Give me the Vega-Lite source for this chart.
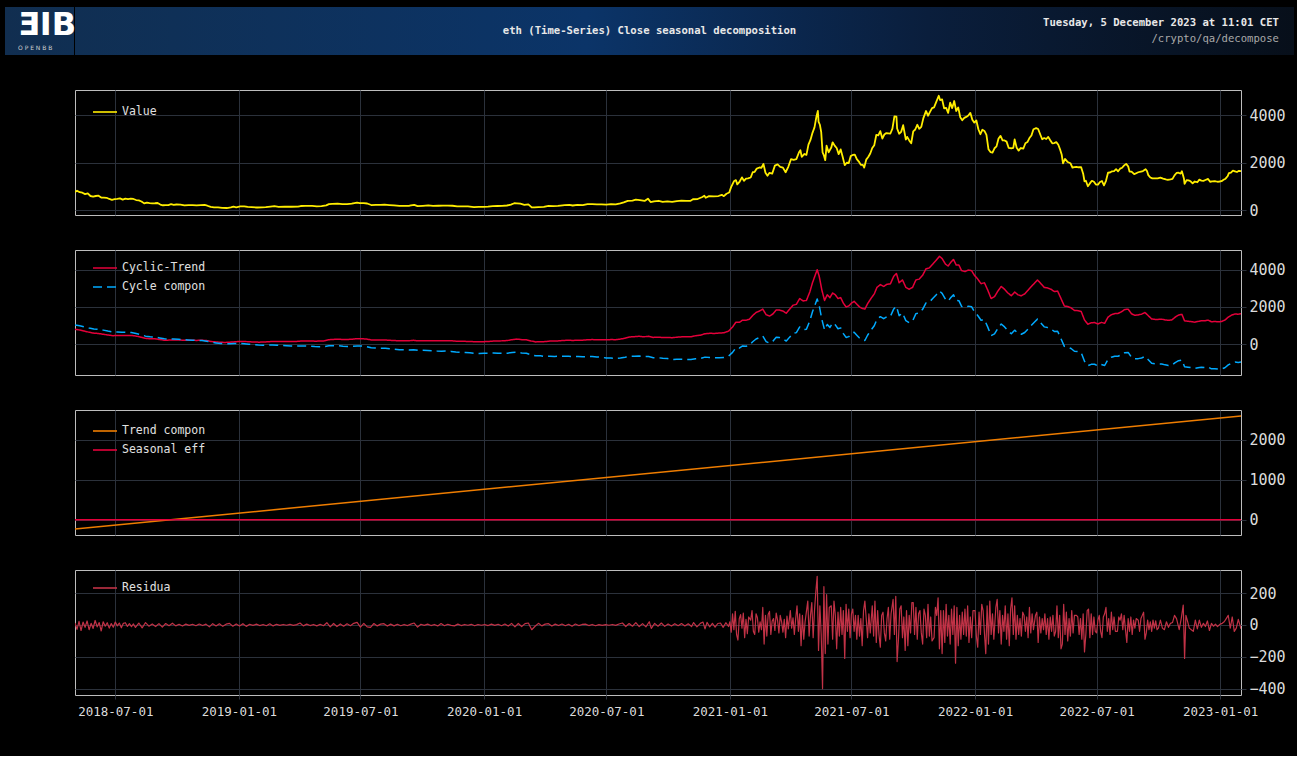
{
  "$schema": "https://vega.github.io/schema/vega-lite/v6.json",
  "background": "#000000",
  "padding": {"left": 5, "top": 7, "right": 4, "bottom": 38},
  "spacing": 0,
  "title": {
    "text": "ƎIB",
    "subtitle": "\u00a0\u00a0\u00a0\u00a0\u00a0O P E N B B",
    "anchor": "start",
    "frame": "group",
    "orient": "top",
    "offset": -45,
    "dx": 13,
    "zindex": 1,
    "font": "DejaVu Sans",
    "fontSize": 32,
    "fontWeight": "bold",
    "color": "#ffffff",
    "subtitleFont": "DejaVu Sans",
    "subtitleFontSize": 6,
    "subtitleColor": "#d0d0d0",
    "subtitlePadding": 3
  },
  "datasets": {
    "value": [
      {"d":"2018-05-02","v":760},{"d":"2018-05-05","v":815},{"d":"2018-05-09","v":750},{"d":"2018-05-13","v":730},{"d":"2018-05-17","v":670},{"d":"2018-05-21","v":700},{"d":"2018-05-25","v":590},{"d":"2018-05-29","v":565},{"d":"2018-06-02","v":590},{"d":"2018-06-06","v":605},{"d":"2018-06-10","v":525},{"d":"2018-06-14","v":520},{"d":"2018-06-18","v":515},{"d":"2018-06-22","v":465},{"d":"2018-06-26","v":430},{"d":"2018-06-30","v":455},{"d":"2018-07-04","v":465},{"d":"2018-07-08","v":490},{"d":"2018-07-12","v":435},{"d":"2018-07-16","v":480},{"d":"2018-07-20","v":460},{"d":"2018-07-24","v":480},{"d":"2018-07-28","v":465},{"d":"2018-08-01","v":420},{"d":"2018-08-05","v":405},{"d":"2018-08-09","v":360},{"d":"2018-08-13","v":280},{"d":"2018-08-17","v":315},{"d":"2018-08-21","v":290},{"d":"2018-08-25","v":280},{"d":"2018-08-29","v":285},{"d":"2018-09-02","v":295},{"d":"2018-09-06","v":230},{"d":"2018-09-10","v":200},{"d":"2018-09-14","v":210},{"d":"2018-09-18","v":210},{"d":"2018-09-22","v":245},{"d":"2018-09-26","v":215},{"d":"2018-09-30","v":232},{"d":"2018-10-06","v":225},{"d":"2018-10-12","v":195},{"d":"2018-10-18","v":205},{"d":"2018-10-24","v":205},{"d":"2018-10-30","v":198},{"d":"2018-11-05","v":210},{"d":"2018-11-11","v":212},{"d":"2018-11-15","v":180},{"d":"2018-11-20","v":130},{"d":"2018-11-25","v":115},{"d":"2018-12-01","v":115},{"d":"2018-12-07","v":92},{"d":"2018-12-14","v":84},{"d":"2018-12-20","v":110},{"d":"2018-12-24","v":140},{"d":"2018-12-28","v":115},
      {"d":"2019-01-03","v":150},{"d":"2019-01-09","v":153},{"d":"2019-01-14","v":128},{"d":"2019-01-20","v":118},{"d":"2019-01-28","v":105},{"d":"2019-02-04","v":107},{"d":"2019-02-10","v":120},{"d":"2019-02-17","v":140},{"d":"2019-02-23","v":160},{"d":"2019-03-01","v":135},{"d":"2019-03-10","v":138},{"d":"2019-03-20","v":138},{"d":"2019-03-30","v":142},{"d":"2019-04-03","v":168},{"d":"2019-04-10","v":175},{"d":"2019-04-20","v":172},{"d":"2019-04-27","v":157},{"d":"2019-05-04","v":162},{"d":"2019-05-11","v":195},{"d":"2019-05-15","v":245},{"d":"2019-05-20","v":260},{"d":"2019-05-28","v":270},{"d":"2019-06-04","v":245},{"d":"2019-06-11","v":245},{"d":"2019-06-18","v":265},{"d":"2019-06-26","v":310},{"d":"2019-06-30","v":290},{"d":"2019-07-06","v":290},{"d":"2019-07-11","v":275},{"d":"2019-07-17","v":210},{"d":"2019-07-24","v":215},{"d":"2019-07-31","v":218},{"d":"2019-08-06","v":225},{"d":"2019-08-13","v":210},{"d":"2019-08-20","v":195},{"d":"2019-08-28","v":170},{"d":"2019-09-04","v":175},{"d":"2019-09-12","v":180},{"d":"2019-09-19","v":220},{"d":"2019-09-24","v":165},{"d":"2019-10-02","v":178},{"d":"2019-10-10","v":192},{"d":"2019-10-17","v":175},{"d":"2019-10-25","v":180},{"d":"2019-11-01","v":183},{"d":"2019-11-08","v":185},{"d":"2019-11-15","v":180},{"d":"2019-11-22","v":150},{"d":"2019-11-30","v":152},{"d":"2019-12-08","v":150},{"d":"2019-12-17","v":122},{"d":"2019-12-24","v":130},{"d":"2019-12-31","v":130},
      {"d":"2020-01-07","v":145},{"d":"2020-01-14","v":165},{"d":"2020-01-21","v":168},{"d":"2020-01-28","v":175},{"d":"2020-02-04","v":190},{"d":"2020-02-10","v":225},{"d":"2020-02-15","v":285},{"d":"2020-02-19","v":280},{"d":"2020-02-24","v":265},{"d":"2020-03-01","v":218},{"d":"2020-03-07","v":240},{"d":"2020-03-12","v":112},{"d":"2020-03-16","v":110},{"d":"2020-03-22","v":122},{"d":"2020-03-30","v":132},{"d":"2020-04-06","v":170},{"d":"2020-04-13","v":160},{"d":"2020-04-20","v":172},{"d":"2020-04-27","v":195},{"d":"2020-04-30","v":206},{"d":"2020-05-07","v":212},{"d":"2020-05-12","v":190},{"d":"2020-05-19","v":213},{"d":"2020-05-27","v":208},{"d":"2020-06-03","v":244},{"d":"2020-06-10","v":247},{"d":"2020-06-17","v":236},{"d":"2020-06-24","v":235},{"d":"2020-07-01","v":230},{"d":"2020-07-08","v":246},{"d":"2020-07-15","v":238},{"d":"2020-07-22","v":275},{"d":"2020-07-27","v":320},{"d":"2020-08-02","v":386},{"d":"2020-08-09","v":392},{"d":"2020-08-14","v":437},{"d":"2020-08-20","v":415},{"d":"2020-08-27","v":382},{"d":"2020-09-01","v":478},{"d":"2020-09-05","v":335},{"d":"2020-09-10","v":367},{"d":"2020-09-17","v":389},{"d":"2020-09-23","v":345},{"d":"2020-09-30","v":360},{"d":"2020-10-07","v":341},{"d":"2020-10-14","v":378},{"d":"2020-10-21","v":393},{"d":"2020-10-28","v":388},{"d":"2020-11-03","v":383},{"d":"2020-11-07","v":454},{"d":"2020-11-14","v":462},{"d":"2020-11-21","v":549},{"d":"2020-11-24","v":604},{"d":"2020-11-26","v":518},{"d":"2020-12-01","v":587},{"d":"2020-12-08","v":575},{"d":"2020-12-15","v":589},{"d":"2020-12-20","v":638},{"d":"2020-12-23","v":584},{"d":"2020-12-27","v":685},{"d":"2020-12-31","v":737},
      {"d":"2021-01-03","v":975},{"d":"2021-01-07","v":1210},{"d":"2021-01-10","v":1260},{"d":"2021-01-12","v":1080},{"d":"2021-01-15","v":1170},{"d":"2021-01-19","v":1375},{"d":"2021-01-22","v":1230},{"d":"2021-01-25","v":1320},{"d":"2021-01-28","v":1330},{"d":"2021-02-01","v":1370},{"d":"2021-02-04","v":1590},{"d":"2021-02-07","v":1610},{"d":"2021-02-10","v":1745},{"d":"2021-02-14","v":1790},{"d":"2021-02-17","v":1780},{"d":"2021-02-20","v":1935},{"d":"2021-02-23","v":1570},{"d":"2021-02-26","v":1445},{"d":"2021-03-01","v":1565},{"d":"2021-03-05","v":1530},{"d":"2021-03-09","v":1870},{"d":"2021-03-13","v":1920},{"d":"2021-03-17","v":1815},{"d":"2021-03-21","v":1785},{"d":"2021-03-25","v":1590},{"d":"2021-03-29","v":1820},{"d":"2021-04-02","v":2140},{"d":"2021-04-06","v":2110},{"d":"2021-04-10","v":2140},{"d":"2021-04-14","v":2430},{"d":"2021-04-16","v":2515},{"d":"2021-04-18","v":2240},{"d":"2021-04-22","v":2360},{"d":"2021-04-25","v":2320},{"d":"2021-04-28","v":2750},{"d":"2021-05-01","v":2950},{"d":"2021-05-04","v":3250},{"d":"2021-05-07","v":3480},{"d":"2021-05-10","v":3950},{"d":"2021-05-12","v":4170},{"d":"2021-05-13","v":3720},{"d":"2021-05-15","v":3590},{"d":"2021-05-17","v":3280},{"d":"2021-05-19","v":2430},{"d":"2021-05-21","v":2300},{"d":"2021-05-23","v":2100},{"d":"2021-05-25","v":2710},{"d":"2021-05-28","v":2430},{"d":"2021-06-01","v":2630},{"d":"2021-06-03","v":2850},{"d":"2021-06-06","v":2710},{"d":"2021-06-09","v":2610},{"d":"2021-06-12","v":2350},{"d":"2021-06-15","v":2550},{"d":"2021-06-18","v":2230},{"d":"2021-06-21","v":1890},{"d":"2021-06-24","v":1990},{"d":"2021-06-27","v":1980},{"d":"2021-06-30","v":2270},{"d":"2021-07-03","v":2320},{"d":"2021-07-06","v":2330},{"d":"2021-07-09","v":2140},{"d":"2021-07-12","v":2040},{"d":"2021-07-15","v":1900},{"d":"2021-07-18","v":1900},{"d":"2021-07-20","v":1785},{"d":"2021-07-23","v":2120},{"d":"2021-07-26","v":2230},{"d":"2021-07-29","v":2380},{"d":"2021-08-01","v":2610},{"d":"2021-08-04","v":2730},{"d":"2021-08-07","v":3160},{"d":"2021-08-10","v":3140},{"d":"2021-08-13","v":3320},{"d":"2021-08-16","v":3010},{"d":"2021-08-19","v":3180},{"d":"2021-08-22","v":3240},{"d":"2021-08-25","v":3230},{"d":"2021-08-28","v":3220},{"d":"2021-08-31","v":3430},{"d":"2021-09-03","v":3940},{"d":"2021-09-06","v":3930},{"d":"2021-09-07","v":3430},{"d":"2021-09-10","v":3210},{"d":"2021-09-13","v":3290},{"d":"2021-09-16","v":3570},{"d":"2021-09-20","v":2970},{"d":"2021-09-22","v":3080},{"d":"2021-09-25","v":2930},{"d":"2021-09-28","v":2810},{"d":"2021-10-01","v":3310},{"d":"2021-10-04","v":3390},{"d":"2021-10-07","v":3590},{"d":"2021-10-10","v":3420},{"d":"2021-10-13","v":3500},{"d":"2021-10-16","v":3860},{"d":"2021-10-20","v":4170},{"d":"2021-10-23","v":3970},{"d":"2021-10-26","v":4130},{"d":"2021-10-29","v":4290},{"d":"2021-11-01","v":4320},{"d":"2021-11-04","v":4530},{"d":"2021-11-08","v":4810},{"d":"2021-11-10","v":4630},{"d":"2021-11-13","v":4660},{"d":"2021-11-16","v":4280},{"d":"2021-11-19","v":4300},{"d":"2021-11-22","v":4090},{"d":"2021-11-25","v":4520},{"d":"2021-11-28","v":4290},{"d":"2021-12-01","v":4590},{"d":"2021-12-04","v":4170},{"d":"2021-12-07","v":4320},{"d":"2021-12-10","v":3910},{"d":"2021-12-13","v":3780},{"d":"2021-12-16","v":3880},{"d":"2021-12-19","v":3920},{"d":"2021-12-22","v":3980},{"d":"2021-12-25","v":4090},{"d":"2021-12-28","v":3800},{"d":"2021-12-31","v":3680},
      {"d":"2022-01-03","v":3770},{"d":"2022-01-06","v":3400},{"d":"2022-01-09","v":3190},{"d":"2022-01-12","v":3380},{"d":"2022-01-15","v":3330},{"d":"2022-01-18","v":3160},{"d":"2022-01-21","v":2560},{"d":"2022-01-24","v":2440},{"d":"2022-01-27","v":2420},{"d":"2022-01-30","v":2600},{"d":"2022-02-02","v":2680},{"d":"2022-02-05","v":3010},{"d":"2022-02-08","v":3120},{"d":"2022-02-11","v":2930},{"d":"2022-02-14","v":2930},{"d":"2022-02-17","v":2880},{"d":"2022-02-20","v":2620},{"d":"2022-02-24","v":2600},{"d":"2022-02-27","v":2620},{"d":"2022-03-01","v":2970},{"d":"2022-03-04","v":2620},{"d":"2022-03-07","v":2500},{"d":"2022-03-10","v":2610},{"d":"2022-03-14","v":2590},{"d":"2022-03-17","v":2810},{"d":"2022-03-20","v":2860},{"d":"2022-03-23","v":3030},{"d":"2022-03-26","v":3140},{"d":"2022-03-29","v":3400},{"d":"2022-04-02","v":3450},{"d":"2022-04-05","v":3410},{"d":"2022-04-08","v":3190},{"d":"2022-04-11","v":2980},{"d":"2022-04-14","v":3030},{"d":"2022-04-17","v":2990},{"d":"2022-04-20","v":3080},{"d":"2022-04-23","v":2940},{"d":"2022-04-26","v":2810},{"d":"2022-04-29","v":2820},{"d":"2022-05-02","v":2860},{"d":"2022-05-05","v":2750},{"d":"2022-05-08","v":2520},{"d":"2022-05-10","v":2340},{"d":"2022-05-12","v":1960},{"d":"2022-05-15","v":2150},{"d":"2022-05-19","v":2020},{"d":"2022-05-23","v":1970},{"d":"2022-05-26","v":1790},{"d":"2022-05-29","v":1810},{"d":"2022-06-01","v":1820},{"d":"2022-06-04","v":1800},{"d":"2022-06-08","v":1800},{"d":"2022-06-11","v":1530},{"d":"2022-06-13","v":1210},{"d":"2022-06-15","v":1230},{"d":"2022-06-18","v":1000},{"d":"2022-06-21","v":1120},{"d":"2022-06-24","v":1230},{"d":"2022-06-27","v":1190},{"d":"2022-06-30","v":1070},{"d":"2022-07-03","v":1070},{"d":"2022-07-06","v":1180},{"d":"2022-07-09","v":1220},{"d":"2022-07-12","v":1040},{"d":"2022-07-15","v":1230},{"d":"2022-07-18","v":1570},{"d":"2022-07-21","v":1580},{"d":"2022-07-24","v":1630},{"d":"2022-07-27","v":1640},{"d":"2022-07-30","v":1720},{"d":"2022-08-02","v":1630},{"d":"2022-08-05","v":1740},{"d":"2022-08-08","v":1780},{"d":"2022-08-11","v":1880},{"d":"2022-08-14","v":1940},{"d":"2022-08-17","v":1840},{"d":"2022-08-19","v":1620},{"d":"2022-08-22","v":1620},{"d":"2022-08-26","v":1510},{"d":"2022-08-29","v":1550},{"d":"2022-09-01","v":1590},{"d":"2022-09-05","v":1620},{"d":"2022-09-08","v":1640},{"d":"2022-09-12","v":1720},{"d":"2022-09-14","v":1640},{"d":"2022-09-16","v":1470},{"d":"2022-09-19","v":1370},{"d":"2022-09-22","v":1330},{"d":"2022-09-26","v":1330},{"d":"2022-09-30","v":1330},{"d":"2022-10-04","v":1360},{"d":"2022-10-08","v":1320},{"d":"2022-10-12","v":1290},{"d":"2022-10-15","v":1270},{"d":"2022-10-19","v":1290},{"d":"2022-10-22","v":1310},{"d":"2022-10-25","v":1460},{"d":"2022-10-28","v":1560},{"d":"2022-10-31","v":1570},{"d":"2022-11-03","v":1530},{"d":"2022-11-05","v":1630},{"d":"2022-11-08","v":1330},{"d":"2022-11-09","v":1100},{"d":"2022-11-12","v":1260},{"d":"2022-11-15","v":1250},{"d":"2022-11-18","v":1210},{"d":"2022-11-21","v":1120},{"d":"2022-11-24","v":1200},{"d":"2022-11-28","v":1170},{"d":"2022-12-01","v":1280},{"d":"2022-12-04","v":1240},{"d":"2022-12-07","v":1230},{"d":"2022-12-10","v":1265},{"d":"2022-12-14","v":1310},{"d":"2022-12-17","v":1190},{"d":"2022-12-20","v":1210},{"d":"2022-12-24","v":1220},{"d":"2022-12-28","v":1190},{"d":"2022-12-31","v":1200},
      {"d":"2023-01-03","v":1215},{"d":"2023-01-06","v":1270},{"d":"2023-01-09","v":1320},{"d":"2023-01-12","v":1420},{"d":"2023-01-14","v":1550},{"d":"2023-01-17","v":1570},{"d":"2023-01-20","v":1660},{"d":"2023-01-23","v":1630},{"d":"2023-01-26","v":1600},{"d":"2023-01-29","v":1650},{"d":"2023-02-01","v":1640}
    ],
    "cyclic": [
      {"d":"2018-05-02","ct":800,"cy":1030},{"d":"2018-05-09","ct":760,"cy":989},{"d":"2018-05-16","ct":700,"cy":927},{"d":"2018-05-23","ct":640,"cy":866},{"d":"2018-05-30","ct":590,"cy":814},{"d":"2018-06-06","ct":570,"cy":793},{"d":"2018-06-13","ct":530,"cy":752},{"d":"2018-06-20","ct":490,"cy":700},{"d":"2018-06-27","ct":455,"cy":654},{"d":"2018-07-04","ct":465,"cy":652},{"d":"2018-07-11","ct":460,"cy":636},{"d":"2018-07-18","ct":465,"cy":630},{"d":"2018-07-25","ct":470,"cy":623},{"d":"2018-08-01","ct":430,"cy":572},{"d":"2018-08-08","ct":375,"cy":505},{"d":"2018-08-15","ct":310,"cy":429},{"d":"2018-08-22","ct":290,"cy":397},{"d":"2018-08-29","ct":285,"cy":381},{"d":"2018-09-05","ct":250,"cy":335},{"d":"2018-09-12","ct":210,"cy":283},{"d":"2018-09-19","ct":215,"cy":277},{"d":"2018-09-26","ct":225,"cy":275},{"d":"2018-10-03","ct":225,"cy":264},{"d":"2018-10-10","ct":210,"cy":238},{"d":"2018-10-17","ct":205,"cy":221},{"d":"2018-10-24","ct":203,"cy":208},{"d":"2018-10-31","ct":200,"cy":193},{"d":"2018-11-07","ct":210,"cy":192},{"d":"2018-11-14","ct":190,"cy":160},{"d":"2018-11-21","ct":140,"cy":99},{"d":"2018-11-28","ct":118,"cy":66},{"d":"2018-12-05","ct":100,"cy":36},{"d":"2018-12-12","ct":90,"cy":15},{"d":"2018-12-19","ct":105,"cy":18},{"d":"2018-12-26","ct":125,"cy":27},
      {"d":"2019-01-02","ct":145,"cy":36},{"d":"2019-01-09","ct":145,"cy":24},{"d":"2019-01-16","ct":125,"cy":-7},{"d":"2019-01-23","ct":115,"cy":-29},{"d":"2019-01-30","ct":107,"cy":-48},{"d":"2019-02-06","ct":108,"cy":-58},{"d":"2019-02-13","ct":125,"cy":-53},{"d":"2019-02-20","ct":145,"cy":-44},{"d":"2019-02-27","ct":140,"cy":-61},{"d":"2019-03-06","ct":135,"cy":-77},{"d":"2019-03-13","ct":137,"cy":-86},{"d":"2019-03-20","ct":138,"cy":-97},{"d":"2019-03-27","ct":140,"cy":-106},{"d":"2019-04-03","ct":162,"cy":-96},{"d":"2019-04-10","ct":172,"cy":-97},{"d":"2019-04-17","ct":170,"cy":-111},{"d":"2019-04-24","ct":160,"cy":-132},{"d":"2019-05-01","ct":162,"cy":-141},{"d":"2019-05-08","ct":175,"cy":-140},{"d":"2019-05-15","ct":235,"cy":-91},{"d":"2019-05-22","ct":255,"cy":-83},{"d":"2019-05-29","ct":265,"cy":-84},{"d":"2019-06-05","ct":250,"cy":-110},{"d":"2019-06-12","ct":250,"cy":-122},{"d":"2019-06-19","ct":265,"cy":-118},{"d":"2019-06-26","ct":295,"cy":-100},{"d":"2019-07-03","ct":290,"cy":-106},{"d":"2019-07-10","ct":275,"cy":-132},{"d":"2019-07-17","ct":225,"cy":-194},{"d":"2019-07-24","ct":215,"cy":-215},{"d":"2019-07-31","ct":218,"cy":-224},{"d":"2019-08-07","ct":222,"cy":-221},{"d":"2019-08-14","ct":205,"cy":-250},{"d":"2019-08-21","ct":192,"cy":-274},{"d":"2019-08-28","ct":175,"cy":-302},{"d":"2019-09-04","ct":175,"cy":-304},{"d":"2019-09-11","ct":180,"cy":-310},{"d":"2019-09-18","ct":205,"cy":-297},{"d":"2019-09-25","ct":175,"cy":-338},{"d":"2019-10-02","ct":178,"cy":-336},{"d":"2019-10-09","ct":185,"cy":-341},{"d":"2019-10-16","ct":180,"cy":-357},{"d":"2019-10-23","ct":175,"cy":-374},{"d":"2019-10-30","ct":182,"cy":-378},{"d":"2019-11-06","ct":185,"cy":-376},{"d":"2019-11-13","ct":182,"cy":-391},{"d":"2019-11-20","ct":160,"cy":-424},{"d":"2019-11-27","ct":152,"cy":-444},{"d":"2019-12-04","ct":148,"cy":-449},{"d":"2019-12-11","ct":145,"cy":-463},{"d":"2019-12-18","ct":128,"cy":-492},{"d":"2019-12-25","ct":128,"cy":-503},
      {"d":"2020-01-01","ct":132,"cy":-491},{"d":"2020-01-08","ct":145,"cy":-489},{"d":"2020-01-15","ct":165,"cy":-481},{"d":"2020-01-22","ct":168,"cy":-489},{"d":"2020-01-29","ct":178,"cy":-490},{"d":"2020-02-05","ct":195,"cy":-485},{"d":"2020-02-12","ct":240,"cy":-451},{"d":"2020-02-19","ct":270,"cy":-433},{"d":"2020-02-26","ct":240,"cy":-474},{"d":"2020-03-04","ct":230,"cy":-495},{"d":"2020-03-11","ct":170,"cy":-567},{"d":"2020-03-18","ct":120,"cy":-628},{"d":"2020-03-25","ct":130,"cy":-630},{"d":"2020-04-01","ct":135,"cy":-666},{"d":"2020-04-08","ct":165,"cy":-647},{"d":"2020-04-15","ct":162,"cy":-662},{"d":"2020-04-22","ct":180,"cy":-655},{"d":"2020-04-29","ct":200,"cy":-647},{"d":"2020-05-06","ct":208,"cy":-650},{"d":"2020-05-13","ct":198,"cy":-672},{"d":"2020-05-20","ct":210,"cy":-671},{"d":"2020-05-27","ct":210,"cy":-682},{"d":"2020-06-03","ct":238,"cy":-666},{"d":"2020-06-10","ct":243,"cy":-672},{"d":"2020-06-17","ct":237,"cy":-690},{"d":"2020-06-24","ct":234,"cy":-704},{"d":"2020-07-01","ct":230,"cy":-749},{"d":"2020-07-08","ct":243,"cy":-748},{"d":"2020-07-15","ct":240,"cy":-762},{"d":"2020-07-22","ct":270,"cy":-744},{"d":"2020-07-29","ct":320,"cy":-705},{"d":"2020-08-05","ct":385,"cy":-651},{"d":"2020-08-12","ct":400,"cy":-648},{"d":"2020-08-19","ct":420,"cy":-639},{"d":"2020-08-26","ct":395,"cy":-676},{"d":"2020-09-02","ct":420,"cy":-662},{"d":"2020-09-09","ct":360,"cy":-733},{"d":"2020-09-16","ct":375,"cy":-730},{"d":"2020-09-23","ct":355,"cy":-761},{"d":"2020-09-30","ct":358,"cy":-770},{"d":"2020-10-07","ct":345,"cy":-834},{"d":"2020-10-14","ct":372,"cy":-818},{"d":"2020-10-21","ct":390,"cy":-812},{"d":"2020-10-28","ct":390,"cy":-823},{"d":"2020-11-04","ct":395,"cy":-830},{"d":"2020-11-11","ct":450,"cy":-786},{"d":"2020-11-18","ct":480,"cy":-768},{"d":"2020-11-25","ct":560,"cy":-699},{"d":"2020-12-02","ct":580,"cy":-720},{"d":"2020-12-09","ct":575,"cy":-737},{"d":"2020-12-16","ct":595,"cy":-728},{"d":"2020-12-23","ct":610,"cy":-725},{"d":"2020-12-30","ct":700,"cy":-646},
      {"d":"2021-01-05","ct":920,"cy":-446},{"d":"2021-01-10","ct":1180,"cy":-194},{"d":"2021-01-15","ct":1170,"cy":-212},{"d":"2021-01-20","ct":1290,"cy":-100},{"d":"2021-01-25","ct":1280,"cy":-118},{"d":"2021-01-30","ct":1340,"cy":-67},{"d":"2021-02-04","ct":1540,"cy":125},{"d":"2021-02-09","ct":1700,"cy":277},{"d":"2021-02-14","ct":1780,"cy":349},{"d":"2021-02-19","ct":1880,"cy":441},{"d":"2021-02-24","ct":1580,"cy":133},{"d":"2021-03-01","ct":1510,"cy":55},{"d":"2021-03-06","ct":1620,"cy":156},{"d":"2021-03-11","ct":1840,"cy":368},{"d":"2021-03-16","ct":1830,"cy":350},{"d":"2021-03-21","ct":1780,"cy":292},{"d":"2021-03-26","ct":1660,"cy":164},{"d":"2021-03-31","ct":1880,"cy":376},{"d":"2021-04-05","ct":2090,"cy":578},{"d":"2021-04-10","ct":2140,"cy":619},{"d":"2021-04-15","ct":2450,"cy":921},{"d":"2021-04-20","ct":2320,"cy":783},{"d":"2021-04-25","ct":2350,"cy":805},{"d":"2021-04-30","ct":2800,"cy":1247},{"d":"2021-05-04","ct":3300,"cy":1742},{"d":"2021-05-08","ct":3700,"cy":2135},{"d":"2021-05-11","ct":4000,"cy":2430},{"d":"2021-05-14","ct":3650,"cy":2076},{"d":"2021-05-18","ct":2900,"cy":1319},{"d":"2021-05-22","ct":2350,"cy":763},{"d":"2021-05-26","ct":2650,"cy":1056},{"d":"2021-05-30","ct":2500,"cy":900},{"d":"2021-06-03","ct":2750,"cy":1141},{"d":"2021-06-07","ct":2650,"cy":1035},{"d":"2021-06-11","ct":2450,"cy":828},{"d":"2021-06-15","ct":2500,"cy":872},{"d":"2021-06-19","ct":2200,"cy":565},{"d":"2021-06-23","ct":2000,"cy":359},{"d":"2021-06-27","ct":2050,"cy":402},{"d":"2021-07-01","ct":2200,"cy":546},{"d":"2021-07-05","ct":2300,"cy":639},{"d":"2021-07-09","ct":2150,"cy":483},{"d":"2021-07-13","ct":2000,"cy":326},{"d":"2021-07-17","ct":1920,"cy":240},{"d":"2021-07-21","ct":1880,"cy":193},{"d":"2021-07-25","ct":2170,"cy":477},{"d":"2021-07-30","ct":2450,"cy":748},{"d":"2021-08-04","ct":2700,"cy":990},{"d":"2021-08-08","ct":3050,"cy":1334},{"d":"2021-08-13","ct":3200,"cy":1476},{"d":"2021-08-18","ct":3100,"cy":1367},{"d":"2021-08-23","ct":3220,"cy":1479},{"d":"2021-08-28","ct":3240,"cy":1491},{"d":"2021-09-02","ct":3650,"cy":1893},{"d":"2021-09-06","ct":3800,"cy":2037},{"d":"2021-09-10","ct":3300,"cy":1530},{"d":"2021-09-15","ct":3450,"cy":1672},{"d":"2021-09-20","ct":3050,"cy":1264},{"d":"2021-09-25","ct":2950,"cy":1156},{"d":"2021-09-30","ct":3050,"cy":1247},{"d":"2021-10-05","ct":3450,"cy":1639},{"d":"2021-10-10","ct":3500,"cy":1681},{"d":"2021-10-15","ct":3700,"cy":1873},{"d":"2021-10-20","ct":4050,"cy":2215},{"d":"2021-10-25","ct":4100,"cy":2257},{"d":"2021-10-30","ct":4300,"cy":2448},{"d":"2021-11-04","ct":4500,"cy":2640},{"d":"2021-11-09","ct":4720,"cy":2852},{"d":"2021-11-13","ct":4600,"cy":2726},{"d":"2021-11-18","ct":4300,"cy":2418},{"d":"2021-11-22","ct":4200,"cy":2311},{"d":"2021-11-26","ct":4400,"cy":2504},{"d":"2021-11-30","ct":4550,"cy":2648},{"d":"2021-12-04","ct":4250,"cy":2341},{"d":"2021-12-08","ct":4250,"cy":2335},{"d":"2021-12-12","ct":3950,"cy":2028},{"d":"2021-12-17","ct":3900,"cy":1970},{"d":"2021-12-22","ct":3980,"cy":2042},{"d":"2021-12-27","ct":3950,"cy":2004},{"d":"2021-12-31","ct":3700,"cy":1747},
      {"d":"2022-01-05","ct":3500,"cy":1539},{"d":"2022-01-10","ct":3250,"cy":1281},{"d":"2022-01-15","ct":3300,"cy":1323},{"d":"2022-01-20","ct":2900,"cy":915},{"d":"2022-01-25","ct":2450,"cy":457},{"d":"2022-01-30","ct":2550,"cy":549},{"d":"2022-02-04","ct":2850,"cy":840},{"d":"2022-02-09","ct":3100,"cy":1082},{"d":"2022-02-14","ct":2950,"cy":924},{"d":"2022-02-19","ct":2750,"cy":716},{"d":"2022-02-24","ct":2600,"cy":558},{"d":"2022-03-01","ct":2800,"cy":750},{"d":"2022-03-06","ct":2650,"cy":591},{"d":"2022-03-11","ct":2600,"cy":533},{"d":"2022-03-16","ct":2700,"cy":625},{"d":"2022-03-21","ct":2900,"cy":817},{"d":"2022-03-26","ct":3100,"cy":1009},{"d":"2022-03-31","ct":3300,"cy":1201},{"d":"2022-04-04","ct":3450,"cy":1344},{"d":"2022-04-09","ct":3250,"cy":1136},{"d":"2022-04-14","ct":3050,"cy":928},{"d":"2022-04-19","ct":3020,"cy":890},{"d":"2022-04-24","ct":2950,"cy":812},{"d":"2022-04-29","ct":2830,"cy":683},{"d":"2022-05-04","ct":2850,"cy":695},{"d":"2022-05-09","ct":2450,"cy":287},{"d":"2022-05-14","ct":2050,"cy":-121},{"d":"2022-05-19","ct":2020,"cy":-159},{"d":"2022-05-24","ct":1950,"cy":-237},{"d":"2022-05-29","ct":1810,"cy":-385},{"d":"2022-06-03","ct":1800,"cy":-404},{"d":"2022-06-08","ct":1760,"cy":-452},{"d":"2022-06-13","ct":1300,"cy":-920},{"d":"2022-06-18","ct":1070,"cy":-1158},{"d":"2022-06-23","ct":1150,"cy":-1086},{"d":"2022-06-28","ct":1160,"cy":-1084},{"d":"2022-07-03","ct":1080,"cy":-1172},{"d":"2022-07-08","ct":1170,"cy":-1091},{"d":"2022-07-13","ct":1120,"cy":-1149},{"d":"2022-07-18","ct":1450,"cy":-827},{"d":"2022-07-23","ct":1580,"cy":-705},{"d":"2022-07-28","ct":1640,"cy":-653},{"d":"2022-08-02","ct":1650,"cy":-651},{"d":"2022-08-07","ct":1740,"cy":-570},{"d":"2022-08-12","ct":1860,"cy":-458},{"d":"2022-08-17","ct":1880,"cy":-446},{"d":"2022-08-22","ct":1630,"cy":-704},{"d":"2022-08-27","ct":1550,"cy":-792},{"d":"2022-09-01","ct":1570,"cy":-780},{"d":"2022-09-06","ct":1610,"cy":-748},{"d":"2022-09-11","ct":1700,"cy":-666},{"d":"2022-09-16","ct":1530,"cy":-845},{"d":"2022-09-21","ct":1350,"cy":-1033},{"d":"2022-09-26","ct":1330,"cy":-1061},{"d":"2022-10-01","ct":1330,"cy":-1069},{"d":"2022-10-06","ct":1340,"cy":-1067},{"d":"2022-10-11","ct":1300,"cy":-1115},{"d":"2022-10-16","ct":1280,"cy":-1144},{"d":"2022-10-21","ct":1300,"cy":-1132},{"d":"2022-10-26","ct":1450,"cy":-990},{"d":"2022-10-31","ct":1560,"cy":-888},{"d":"2022-11-05","ct":1600,"cy":-856},{"d":"2022-11-09","ct":1250,"cy":-1213},{"d":"2022-11-14","ct":1230,"cy":-1241},{"d":"2022-11-19","ct":1210,"cy":-1269},{"d":"2022-11-24","ct":1180,"cy":-1307},{"d":"2022-11-29","ct":1220,"cy":-1275},{"d":"2022-12-04","ct":1260,"cy":-1244},{"d":"2022-12-09","ct":1250,"cy":-1262},{"d":"2022-12-14","ct":1290,"cy":-1230},{"d":"2022-12-19","ct":1200,"cy":-1328},{"d":"2022-12-24","ct":1215,"cy":-1321},{"d":"2022-12-29","ct":1200,"cy":-1344},
      {"d":"2023-01-03","ct":1215,"cy":-1337},{"d":"2023-01-08","ct":1290,"cy":-1271},{"d":"2023-01-13","ct":1450,"cy":-1119},{"d":"2023-01-18","ct":1560,"cy":-1017},{"d":"2023-01-23","ct":1620,"cy":-965},{"d":"2023-01-28","ct":1610,"cy":-983},{"d":"2023-02-01","ct":1640,"cy":-960}
    ],
    "components": [
      {"d":"2018-05-02","s":"Trend compon","v":-230},{"d":"2023-02-01","s":"Trend compon","v":2600},
      {"d":"2018-05-02","s":"Seasonal eff","v":0},{"d":"2023-02-01","s":"Seasonal eff","v":0}
    ],
    "resid": [
      {"d":"2018-05-02","r":12},{"d":"2018-05-05","r":-28},{"d":"2018-05-08","r":22},{"d":"2018-05-11","r":-35},{"d":"2018-05-14","r":18},{"d":"2018-05-17","r":-15},{"d":"2018-05-20","r":25},{"d":"2018-05-23","r":-30},{"d":"2018-05-26","r":10},{"d":"2018-05-29","r":-22},{"d":"2018-06-01","r":28},{"d":"2018-06-04","r":-12},{"d":"2018-06-07","r":15},{"d":"2018-06-10","r":-38},{"d":"2018-06-13","r":20},{"d":"2018-06-16","r":-8},{"d":"2018-06-19","r":14},{"d":"2018-06-22","r":-20},{"d":"2018-06-25","r":9},{"d":"2018-06-28","r":-14},{"d":"2018-07-01","r":18},{"d":"2018-07-04","r":-6},{"d":"2018-07-07","r":12},{"d":"2018-07-10","r":-18},{"d":"2018-07-13","r":10},{"d":"2018-07-16","r":14},{"d":"2018-07-19","r":-9},{"d":"2018-07-22","r":8},{"d":"2018-07-25","r":-11},{"d":"2018-07-28","r":6},{"d":"2018-07-31","r":-16},{"d":"2018-08-05","r":12},{"d":"2018-08-10","r":-18},{"d":"2018-08-15","r":15},{"d":"2018-08-20","r":-8},{"d":"2018-08-25","r":6},{"d":"2018-08-30","r":-10},{"d":"2018-09-04","r":8},{"d":"2018-09-09","r":-14},{"d":"2018-09-14","r":9},{"d":"2018-09-19","r":-5},{"d":"2018-09-24","r":11},{"d":"2018-09-29","r":-6},{"d":"2018-10-04","r":4},{"d":"2018-10-09","r":-7},{"d":"2018-10-14","r":5},{"d":"2018-10-19","r":-3},{"d":"2018-10-24","r":4},{"d":"2018-10-29","r":-5},{"d":"2018-11-03","r":6},{"d":"2018-11-08","r":-4},{"d":"2018-11-13","r":5},{"d":"2018-11-18","r":-12},{"d":"2018-11-23","r":8},{"d":"2018-11-28","r":-6},{"d":"2018-12-03","r":7},{"d":"2018-12-08","r":-9},{"d":"2018-12-13","r":5},{"d":"2018-12-18","r":10},{"d":"2018-12-23","r":-8},{"d":"2018-12-28","r":6},
      {"d":"2019-01-02","r":-7},{"d":"2019-01-07","r":8},{"d":"2019-01-12","r":-9},{"d":"2019-01-17","r":4},{"d":"2019-01-22","r":-3},{"d":"2019-01-27","r":5},{"d":"2019-02-01","r":-4},{"d":"2019-02-06","r":3},{"d":"2019-02-11","r":-5},{"d":"2019-02-16","r":7},{"d":"2019-02-21","r":-6},{"d":"2019-02-26","r":4},{"d":"2019-03-03","r":-3},{"d":"2019-03-08","r":3},{"d":"2019-03-13","r":-2},{"d":"2019-03-18","r":4},{"d":"2019-03-23","r":-3},{"d":"2019-03-28","r":2},{"d":"2019-04-02","r":12},{"d":"2019-04-07","r":-6},{"d":"2019-04-12","r":5},{"d":"2019-04-17","r":-4},{"d":"2019-04-22","r":3},{"d":"2019-04-27","r":-6},{"d":"2019-05-02","r":4},{"d":"2019-05-07","r":-5},{"d":"2019-05-12","r":14},{"d":"2019-05-17","r":-12},{"d":"2019-05-22","r":9},{"d":"2019-05-27","r":-10},{"d":"2019-06-01","r":6},{"d":"2019-06-06","r":-8},{"d":"2019-06-11","r":7},{"d":"2019-06-16","r":-5},{"d":"2019-06-21","r":10},{"d":"2019-06-26","r":16},{"d":"2019-07-01","r":-14},{"d":"2019-07-06","r":10},{"d":"2019-07-11","r":-12},{"d":"2019-07-16","r":-15},{"d":"2019-07-21","r":9},{"d":"2019-07-26","r":-6},{"d":"2019-07-31","r":5},{"d":"2019-08-05","r":8},{"d":"2019-08-10","r":-7},{"d":"2019-08-15","r":5},{"d":"2019-08-20","r":-6},{"d":"2019-08-25","r":4},{"d":"2019-08-30","r":-5},{"d":"2019-09-04","r":3},{"d":"2019-09-09","r":-4},{"d":"2019-09-14","r":5},{"d":"2019-09-19","r":12},{"d":"2019-09-24","r":-14},{"d":"2019-09-29","r":4},{"d":"2019-10-04","r":-3},{"d":"2019-10-09","r":5},{"d":"2019-10-14","r":-4},{"d":"2019-10-19","r":3},{"d":"2019-10-24","r":-6},{"d":"2019-10-29","r":9},{"d":"2019-11-03","r":-5},{"d":"2019-11-08","r":4},{"d":"2019-11-13","r":-3},{"d":"2019-11-18","r":-6},{"d":"2019-11-23","r":5},{"d":"2019-11-28","r":-4},{"d":"2019-12-03","r":3},{"d":"2019-12-08","r":-2},{"d":"2019-12-13","r":4},{"d":"2019-12-18","r":-5},{"d":"2019-12-23","r":3},{"d":"2019-12-28","r":-2},
      {"d":"2020-01-02","r":3},{"d":"2020-01-07","r":-4},{"d":"2020-01-12","r":5},{"d":"2020-01-17","r":-3},{"d":"2020-01-22","r":4},{"d":"2020-01-27","r":-5},{"d":"2020-02-01","r":6},{"d":"2020-02-06","r":-7},{"d":"2020-02-11","r":10},{"d":"2020-02-16","r":-12},{"d":"2020-02-21","r":9},{"d":"2020-02-26","r":-10},{"d":"2020-03-02","r":8},{"d":"2020-03-07","r":12},{"d":"2020-03-12","r":-30},{"d":"2020-03-17","r":-8},{"d":"2020-03-22","r":10},{"d":"2020-03-27","r":-6},{"d":"2020-04-01","r":5},{"d":"2020-04-06","r":8},{"d":"2020-04-11","r":-7},{"d":"2020-04-16","r":5},{"d":"2020-04-21","r":-4},{"d":"2020-04-26","r":6},{"d":"2020-05-01","r":-5},{"d":"2020-05-06","r":4},{"d":"2020-05-11","r":-8},{"d":"2020-05-16","r":6},{"d":"2020-05-21","r":-4},{"d":"2020-05-26","r":3},{"d":"2020-05-31","r":5},{"d":"2020-06-05","r":-4},{"d":"2020-06-10","r":3},{"d":"2020-06-15","r":-5},{"d":"2020-06-20","r":2},{"d":"2020-06-25","r":-3},{"d":"2020-06-30","r":2},{"d":"2020-07-05","r":-2},{"d":"2020-07-10","r":3},{"d":"2020-07-15","r":-3},{"d":"2020-07-20","r":6},{"d":"2020-07-25","r":12},{"d":"2020-07-30","r":-10},{"d":"2020-08-04","r":9},{"d":"2020-08-09","r":-8},{"d":"2020-08-14","r":14},{"d":"2020-08-19","r":-10},{"d":"2020-08-24","r":8},{"d":"2020-08-29","r":-12},{"d":"2020-09-03","r":20},{"d":"2020-09-06","r":-22},{"d":"2020-09-11","r":10},{"d":"2020-09-16","r":-8},{"d":"2020-09-21","r":12},{"d":"2020-09-26","r":-9},{"d":"2020-10-01","r":6},{"d":"2020-10-06","r":-7},{"d":"2020-10-11","r":8},{"d":"2020-10-16","r":-5},{"d":"2020-10-21","r":9},{"d":"2020-10-26","r":-6},{"d":"2020-10-31","r":7},{"d":"2020-11-05","r":-10},{"d":"2020-11-08","r":15},{"d":"2020-11-13","r":-12},{"d":"2020-11-18","r":10},{"d":"2020-11-22","r":18},{"d":"2020-11-25","r":-25},{"d":"2020-11-28","r":16},{"d":"2020-12-02","r":-12},{"d":"2020-12-06","r":10},{"d":"2020-12-10","r":-14},{"d":"2020-12-14","r":9},{"d":"2020-12-18","r":12},{"d":"2020-12-22","r":-15},{"d":"2020-12-26","r":14},{"d":"2020-12-30","r":-10},
      {"d":"2021-01-01","r":20},{"d":"2021-01-03","r":-45},{"d":"2021-01-05","r":70},{"d":"2021-01-07","r":-30},{"d":"2021-01-09","r":85},{"d":"2021-01-11","r":-60},{"d":"2021-01-13","r":-95},{"d":"2021-01-15","r":40},{"d":"2021-01-17","r":65},{"d":"2021-01-19","r":-20},{"d":"2021-01-21","r":75},{"d":"2021-01-23","r":-80},{"d":"2021-01-25","r":35},{"d":"2021-01-27","r":-55},{"d":"2021-01-29","r":50},
      {"d":"2021-02-01","r":30},{"d":"2021-02-03","r":90},{"d":"2021-02-05","r":-40},{"d":"2021-02-07","r":-60},{"d":"2021-02-09","r":70},{"d":"2021-02-11","r":45},{"d":"2021-02-13","r":-45},{"d":"2021-02-15","r":20},{"d":"2021-02-17","r":-30},{"d":"2021-02-19","r":110},{"d":"2021-02-21","r":-120},{"d":"2021-02-23","r":60},{"d":"2021-02-25","r":-70},{"d":"2021-02-27","r":65},
      {"d":"2021-03-01","r":85},{"d":"2021-03-03","r":-60},{"d":"2021-03-05","r":25},{"d":"2021-03-07","r":40},{"d":"2021-03-09","r":-35},{"d":"2021-03-11","r":75},{"d":"2021-03-13","r":30},{"d":"2021-03-15","r":-50},{"d":"2021-03-17","r":60},{"d":"2021-03-19","r":20},{"d":"2021-03-21","r":-45},{"d":"2021-03-23","r":35},{"d":"2021-03-25","r":-80},{"d":"2021-03-27","r":55},{"d":"2021-03-29","r":-25},
      {"d":"2021-04-01","r":90},{"d":"2021-04-03","r":-20},{"d":"2021-04-05","r":45},{"d":"2021-04-07","r":-60},{"d":"2021-04-09","r":40},{"d":"2021-04-11","r":120},{"d":"2021-04-13","r":-40},{"d":"2021-04-15","r":70},{"d":"2021-04-17","r":-130},{"d":"2021-04-19","r":60},{"d":"2021-04-21","r":-90},{"d":"2021-04-23","r":20},{"d":"2021-04-25","r":85},{"d":"2021-04-27","r":150},{"d":"2021-04-29","r":-70},
      {"d":"2021-05-01","r":60},{"d":"2021-05-03","r":140},{"d":"2021-05-05","r":-80},{"d":"2021-05-07","r":90},{"d":"2021-05-09","r":210},{"d":"2021-05-11","r":305},{"d":"2021-05-13","r":-160},{"d":"2021-05-15","r":120},{"d":"2021-05-17","r":-60},{"d":"2021-05-19","r":-400},{"d":"2021-05-21","r":240},{"d":"2021-05-23","r":-180},{"d":"2021-05-25","r":190},{"d":"2021-05-27","r":-120},{"d":"2021-05-29","r":110},
      {"d":"2021-06-01","r":120},{"d":"2021-06-03","r":-90},{"d":"2021-06-05","r":150},{"d":"2021-06-07","r":60},{"d":"2021-06-09","r":-150},{"d":"2021-06-11","r":80},{"d":"2021-06-13","r":-70},{"d":"2021-06-15","r":110},{"d":"2021-06-17","r":-60},{"d":"2021-06-19","r":90},{"d":"2021-06-21","r":-210},{"d":"2021-06-23","r":130},{"d":"2021-06-25","r":-40},{"d":"2021-06-27","r":100},{"d":"2021-06-29","r":-80},
      {"d":"2021-07-01","r":70},{"d":"2021-07-03","r":100},{"d":"2021-07-05","r":-40},{"d":"2021-07-07","r":60},{"d":"2021-07-09","r":-90},{"d":"2021-07-11","r":60},{"d":"2021-07-13","r":-70},{"d":"2021-07-15","r":40},{"d":"2021-07-17","r":-130},{"d":"2021-07-19","r":90},{"d":"2021-07-21","r":150},{"d":"2021-07-23","r":40},{"d":"2021-07-25","r":-80},{"d":"2021-07-27","r":70},{"d":"2021-07-29","r":-50},
      {"d":"2021-08-01","r":120},{"d":"2021-08-03","r":-70},{"d":"2021-08-05","r":150},{"d":"2021-08-07","r":-110},{"d":"2021-08-09","r":90},{"d":"2021-08-11","r":-60},{"d":"2021-08-13","r":-140},{"d":"2021-08-15","r":60},{"d":"2021-08-17","r":80},{"d":"2021-08-19","r":-50},{"d":"2021-08-21","r":-100},{"d":"2021-08-23","r":40},{"d":"2021-08-25","r":110},{"d":"2021-08-27","r":-90},{"d":"2021-08-29","r":70},
      {"d":"2021-09-01","r":160},{"d":"2021-09-03","r":-60},{"d":"2021-09-05","r":180},{"d":"2021-09-07","r":-230},{"d":"2021-09-09","r":-90},{"d":"2021-09-11","r":100},{"d":"2021-09-13","r":120},{"d":"2021-09-15","r":-80},{"d":"2021-09-17","r":50},{"d":"2021-09-19","r":-160},{"d":"2021-09-21","r":90},{"d":"2021-09-23","r":-130},{"d":"2021-09-25","r":60},{"d":"2021-09-27","r":-50},{"d":"2021-09-29","r":140},
      {"d":"2021-10-01","r":140},{"d":"2021-10-03","r":-60},{"d":"2021-10-05","r":110},{"d":"2021-10-07","r":-90},{"d":"2021-10-09","r":70},{"d":"2021-10-11","r":90},{"d":"2021-10-13","r":-50},{"d":"2021-10-15","r":-120},{"d":"2021-10-17","r":100},{"d":"2021-10-19","r":60},{"d":"2021-10-21","r":-80},{"d":"2021-10-23","r":130},{"d":"2021-10-25","r":-70},{"d":"2021-10-27","r":50},{"d":"2021-10-29","r":-100},
      {"d":"2021-11-01","r":-80},{"d":"2021-11-03","r":110},{"d":"2021-11-05","r":60},{"d":"2021-11-07","r":170},{"d":"2021-11-09","r":-150},{"d":"2021-11-11","r":90},{"d":"2021-11-13","r":-180},{"d":"2021-11-15","r":90},{"d":"2021-11-17","r":-110},{"d":"2021-11-19","r":130},{"d":"2021-11-21","r":-70},{"d":"2021-11-23","r":60},{"d":"2021-11-25","r":-120},{"d":"2021-11-27","r":100},{"d":"2021-11-29","r":-60},
      {"d":"2021-12-01","r":120},{"d":"2021-12-03","r":-240},{"d":"2021-12-05","r":110},{"d":"2021-12-07","r":-130},{"d":"2021-12-09","r":60},{"d":"2021-12-11","r":-90},{"d":"2021-12-13","r":80},{"d":"2021-12-15","r":-60},{"d":"2021-12-17","r":100},{"d":"2021-12-19","r":-70},{"d":"2021-12-21","r":120},{"d":"2021-12-23","r":-110},{"d":"2021-12-25","r":50},{"d":"2021-12-27","r":-80},{"d":"2021-12-29","r":90},
      {"d":"2022-01-01","r":90},{"d":"2022-01-03","r":-70},{"d":"2022-01-05","r":-140},{"d":"2022-01-07","r":80},{"d":"2022-01-09","r":-60},{"d":"2022-01-11","r":130},{"d":"2022-01-13","r":90},{"d":"2022-01-15","r":-50},{"d":"2022-01-17","r":-180},{"d":"2022-01-19","r":120},{"d":"2022-01-21","r":-120},{"d":"2022-01-23","r":150},{"d":"2022-01-25","r":-60},{"d":"2022-01-27","r":70},{"d":"2022-01-29","r":-90},
      {"d":"2022-02-01","r":110},{"d":"2022-02-03","r":160},{"d":"2022-02-05","r":-50},{"d":"2022-02-07","r":90},{"d":"2022-02-09","r":-120},{"d":"2022-02-11","r":60},{"d":"2022-02-13","r":-40},{"d":"2022-02-15","r":120},{"d":"2022-02-17","r":-90},{"d":"2022-02-19","r":70},{"d":"2022-02-21","r":-130},{"d":"2022-02-23","r":100},{"d":"2022-02-25","r":170},{"d":"2022-02-27","r":-60},
      {"d":"2022-03-01","r":120},{"d":"2022-03-03","r":-90},{"d":"2022-03-05","r":60},{"d":"2022-03-07","r":-60},{"d":"2022-03-09","r":40},{"d":"2022-03-11","r":-70},{"d":"2022-03-13","r":80},{"d":"2022-03-15","r":60},{"d":"2022-03-17","r":-40},{"d":"2022-03-19","r":50},{"d":"2022-03-21","r":-80},{"d":"2022-03-23","r":110},{"d":"2022-03-25","r":-50},{"d":"2022-03-27","r":70},{"d":"2022-03-29","r":-30},
      {"d":"2022-04-01","r":60},{"d":"2022-04-03","r":80},{"d":"2022-04-05","r":-110},{"d":"2022-04-07","r":50},{"d":"2022-04-09","r":-50},{"d":"2022-04-11","r":40},{"d":"2022-04-13","r":-30},{"d":"2022-04-15","r":70},{"d":"2022-04-17","r":-60},{"d":"2022-04-19","r":40},{"d":"2022-04-21","r":-90},{"d":"2022-04-23","r":50},{"d":"2022-04-25","r":-40},{"d":"2022-04-27","r":60},{"d":"2022-04-29","r":-70},
      {"d":"2022-05-01","r":-40},{"d":"2022-05-03","r":120},{"d":"2022-05-05","r":-80},{"d":"2022-05-07","r":60},{"d":"2022-05-09","r":-150},{"d":"2022-05-11","r":-120},{"d":"2022-05-13","r":130},{"d":"2022-05-15","r":-60},{"d":"2022-05-17","r":80},{"d":"2022-05-19","r":-100},{"d":"2022-05-21","r":40},{"d":"2022-05-23","r":-70},{"d":"2022-05-25","r":90},{"d":"2022-05-27","r":-50},{"d":"2022-05-29","r":60},
      {"d":"2022-06-01","r":60},{"d":"2022-06-03","r":50},{"d":"2022-06-05","r":-60},{"d":"2022-06-07","r":40},{"d":"2022-06-09","r":-90},{"d":"2022-06-11","r":70},{"d":"2022-06-13","r":-170},{"d":"2022-06-15","r":-60},{"d":"2022-06-17","r":90},{"d":"2022-06-19","r":100},{"d":"2022-06-21","r":-80},{"d":"2022-06-23","r":70},{"d":"2022-06-25","r":-60},{"d":"2022-06-27","r":50},{"d":"2022-06-29","r":-40},
      {"d":"2022-07-01","r":-50},{"d":"2022-07-03","r":30},{"d":"2022-07-05","r":60},{"d":"2022-07-07","r":-40},{"d":"2022-07-09","r":-80},{"d":"2022-07-11","r":50},{"d":"2022-07-13","r":70},{"d":"2022-07-15","r":110},{"d":"2022-07-17","r":-40},{"d":"2022-07-19","r":40},{"d":"2022-07-21","r":-60},{"d":"2022-07-23","r":80},{"d":"2022-07-25","r":-30},{"d":"2022-07-27","r":50},{"d":"2022-07-29","r":-40},
      {"d":"2022-08-01","r":-40},{"d":"2022-08-03","r":50},{"d":"2022-08-05","r":30},{"d":"2022-08-07","r":70},{"d":"2022-08-09","r":-30},{"d":"2022-08-11","r":60},{"d":"2022-08-13","r":-30},{"d":"2022-08-15","r":-110},{"d":"2022-08-17","r":40},{"d":"2022-08-19","r":-40},{"d":"2022-08-21","r":50},{"d":"2022-08-23","r":-60},{"d":"2022-08-25","r":30},{"d":"2022-08-27","r":-20},{"d":"2022-08-29","r":40},
      {"d":"2022-09-01","r":30},{"d":"2022-09-03","r":-40},{"d":"2022-09-05","r":40},{"d":"2022-09-07","r":60},{"d":"2022-09-09","r":80},{"d":"2022-09-11","r":-90},{"d":"2022-09-13","r":-50},{"d":"2022-09-15","r":30},{"d":"2022-09-17","r":-30},{"d":"2022-09-19","r":20},{"d":"2022-09-21","r":-40},{"d":"2022-09-23","r":30},{"d":"2022-09-25","r":-20},{"d":"2022-09-27","r":25},{"d":"2022-09-29","r":-30},
      {"d":"2022-10-01","r":-20},{"d":"2022-10-04","r":30},{"d":"2022-10-07","r":-20},{"d":"2022-10-10","r":-30},{"d":"2022-10-13","r":20},{"d":"2022-10-16","r":-15},{"d":"2022-10-19","r":10},{"d":"2022-10-22","r":15},{"d":"2022-10-25","r":60},{"d":"2022-10-28","r":40},
      {"d":"2022-11-01","r":-30},{"d":"2022-11-04","r":40},{"d":"2022-11-07","r":125},{"d":"2022-11-09","r":-210},{"d":"2022-11-11","r":60},{"d":"2022-11-13","r":30},{"d":"2022-11-16","r":-20},{"d":"2022-11-19","r":-30},{"d":"2022-11-22","r":-40},{"d":"2022-11-25","r":30},{"d":"2022-11-28","r":-25},
      {"d":"2022-12-01","r":30},{"d":"2022-12-04","r":-15},{"d":"2022-12-07","r":10},{"d":"2022-12-10","r":-10},{"d":"2022-12-13","r":25},{"d":"2022-12-16","r":-35},{"d":"2022-12-19","r":10},{"d":"2022-12-22","r":-8},{"d":"2022-12-25","r":5},{"d":"2022-12-28","r":-10},
      {"d":"2023-01-01","r":5},{"d":"2023-01-04","r":10},{"d":"2023-01-07","r":20},{"d":"2023-01-10","r":40},{"d":"2023-01-13","r":60},{"d":"2023-01-16","r":-20},{"d":"2023-01-19","r":50},{"d":"2023-01-22","r":-40},{"d":"2023-01-25","r":-20},{"d":"2023-01-28","r":35},{"d":"2023-02-01","r":-25}
    ]
  },
  "hconcat": [
    {
      "width": 69,
      "height": 48,
      "view": {"stroke": null},
      "data": {"values": [{}]},
      "mark": {
        "type": "rect",
        "fill": {
          "gradient": "linear",
          "x1": 0, "y1": 0, "x2": 1, "y2": 0,
          "stops": [
            {"offset": 0, "color": "#112e50"},
            {"offset": 1, "color": "#102f53"}
          ]
        }
      },
      "encoding": {}
    },
    {
      "spacing": 35,
      "bounds": "flush",
      "resolve": {
        "scale": {"x": "independent", "y": "independent", "color": "independent", "strokeDash": "independent"},
        "legend": {"color": "independent", "strokeDash": "independent"}
      },
      "vconcat": [
        {
          "width": 1219,
          "height": 48,
          "view": {"stroke": null},
          "layer": [
            {
              "data": {"values": [{"t": "eth (Time-Series) Close seasonal decomposition"}]},
              "mark": {
                "type": "rect",
                "fill": {
                  "gradient": "linear",
                  "x1": 0, "y1": 0, "x2": 1, "y2": 0,
                  "stops": [
                    {"offset": 0, "color": "#102f53"},
                    {"offset": 0.42, "color": "#0b3468"},
                    {"offset": 0.7, "color": "#0a1e3c"},
                    {"offset": 1, "color": "#070f1a"}
                  ]
                }
              },
              "encoding": {}
            },
            {
              "data": {"values": [{"t": "eth (Time-Series) Close seasonal decomposition"}]},
              "mark": {"type": "text", "dx": -35, "font": "DejaVu Sans Mono", "fontSize": 10.6, "fontWeight": "bold", "color": "#e8e8e8"},
              "encoding": {"text": {"field": "t"}}
            },
            {
              "data": {"values": [{"k": "date", "t": "Tuesday, 5 December 2023 at 11:01 CET"}]},
              "mark": {"type": "text", "align": "right", "dx": -15, "font": "DejaVu Sans Mono", "fontSize": 10.6, "fontWeight": "bold", "color": "#e8e8e8"},
              "encoding": {
                "x": {"value": "width"},
                "y": {"field": "k", "type": "ordinal", "axis": null, "scale": {"domain": ["date", "path"], "padding": 1.15}},
                "text": {"field": "t"}
              }
            },
            {
              "data": {"values": [{"k": "path", "t": "/crypto/qa/decompose"}]},
              "mark": {"type": "text", "align": "right", "dx": -15, "font": "DejaVu Sans Mono", "fontSize": 10.6, "color": "#a9a9a9"},
              "encoding": {
                "x": {"value": "width"},
                "y": {"field": "k", "type": "ordinal", "axis": null, "scale": {"domain": ["date", "path"], "padding": 1.15}},
                "text": {"field": "t"}
              }
            }
          ]
        },
        {
          "width": 1166,
          "height": 125,
          "data": {"name": "value"},
          "mark": {"type": "line", "strokeWidth": 1.8, "strokeJoin": "round", "clip": true},
          "encoding": {
            "x": {
              "field": "d", "type": "temporal",
              "scale": {"type": "utc", "domain": [{"year": 2018, "month": 5, "date": 2, "utc": true}, {"year": 2023, "month": 2, "date": 1, "utc": true}]},
              "axis": {"title": null, "labels": false, "ticks": false, "domain": false, "grid": true,
                "values": [{"year": 2018, "month": 7, "date": 1, "utc": true}, {"year": 2019, "month": 1, "date": 1, "utc": true}, {"year": 2019, "month": 7, "date": 1, "utc": true}, {"year": 2020, "month": 1, "date": 1, "utc": true}, {"year": 2020, "month": 7, "date": 1, "utc": true}, {"year": 2021, "month": 1, "date": 1, "utc": true}, {"year": 2021, "month": 7, "date": 1, "utc": true}, {"year": 2022, "month": 1, "date": 1, "utc": true}, {"year": 2022, "month": 7, "date": 1, "utc": true}, {"year": 2023, "month": 1, "date": 1, "utc": true}]}
            },
            "y": {
              "field": "v", "type": "quantitative",
              "scale": {"domain": [-210, 5053], "nice": false, "zero": false},
              "axis": {"title": null, "orient": "right", "values": [0, 2000, 4000], "format": "d", "labelFontSize": 15, "labelPadding": 3, "tickSize": 5, "domain": false, "grid": true}
            },
            "color": {
              "datum": "Value", "type": "nominal",
              "scale": {"domain": ["Value"], "range": ["#ffed00"]},
              "legend": {"title": null, "orient": "none", "legendX": 17, "legendY": 9}
            }
          }
        },
        {
          "width": 1166,
          "height": 125,
          "data": {"name": "cyclic"},
          "transform": [{"fold": ["ct", "cy"], "as": ["s", "val"]}],
          "mark": {"type": "line", "strokeWidth": 1.5, "strokeJoin": "round", "clip": true},
          "encoding": {
            "x": {
              "field": "d", "type": "temporal",
              "scale": {"type": "utc", "domain": [{"year": 2018, "month": 5, "date": 2, "utc": true}, {"year": 2023, "month": 2, "date": 1, "utc": true}]},
              "axis": {"title": null, "labels": false, "ticks": false, "domain": false, "grid": true,
                "values": [{"year": 2018, "month": 7, "date": 1, "utc": true}, {"year": 2019, "month": 1, "date": 1, "utc": true}, {"year": 2019, "month": 7, "date": 1, "utc": true}, {"year": 2020, "month": 1, "date": 1, "utc": true}, {"year": 2020, "month": 7, "date": 1, "utc": true}, {"year": 2021, "month": 1, "date": 1, "utc": true}, {"year": 2021, "month": 7, "date": 1, "utc": true}, {"year": 2022, "month": 1, "date": 1, "utc": true}, {"year": 2022, "month": 7, "date": 1, "utc": true}, {"year": 2023, "month": 1, "date": 1, "utc": true}]}
            },
            "y": {
              "field": "val", "type": "quantitative",
              "scale": {"domain": [-1660, 5060], "nice": false, "zero": false},
              "axis": {"title": null, "orient": "right", "values": [0, 2000, 4000], "format": "d", "labelFontSize": 15, "labelPadding": 3, "tickSize": 5, "domain": false, "grid": true}
            },
            "color": {
              "field": "s", "type": "nominal",
              "scale": {"domain": ["ct", "cy"], "range": ["#e4003a", "#00aaff"]},
              "legend": {"title": null, "orient": "none", "legendX": 17, "legendY": 5, "labelExpr": "datum.label == 'ct' ? 'Cyclic-Trend' : 'Cycle compon'"}
            },
            "strokeDash": {
              "field": "s", "type": "nominal",
              "scale": {"domain": ["ct", "cy"], "range": [[1, 0], [9, 5]]},
              "legend": {"title": null, "orient": "none", "legendX": 17, "legendY": 5, "labelExpr": "datum.label == 'ct' ? 'Cyclic-Trend' : 'Cycle compon'"}
            }
          }
        },
        {
          "width": 1166,
          "height": 125,
          "data": {"name": "components"},
          "mark": {"type": "line", "strokeWidth": 1.5, "strokeJoin": "round", "clip": true},
          "encoding": {
            "x": {
              "field": "d", "type": "temporal",
              "scale": {"type": "utc", "domain": [{"year": 2018, "month": 5, "date": 2, "utc": true}, {"year": 2023, "month": 2, "date": 1, "utc": true}]},
              "axis": {"title": null, "labels": false, "ticks": false, "domain": false, "grid": true,
                "values": [{"year": 2018, "month": 7, "date": 1, "utc": true}, {"year": 2019, "month": 1, "date": 1, "utc": true}, {"year": 2019, "month": 7, "date": 1, "utc": true}, {"year": 2020, "month": 1, "date": 1, "utc": true}, {"year": 2020, "month": 7, "date": 1, "utc": true}, {"year": 2021, "month": 1, "date": 1, "utc": true}, {"year": 2021, "month": 7, "date": 1, "utc": true}, {"year": 2022, "month": 1, "date": 1, "utc": true}, {"year": 2022, "month": 7, "date": 1, "utc": true}, {"year": 2023, "month": 1, "date": 1, "utc": true}]}
            },
            "y": {
              "field": "v", "type": "quantitative",
              "scale": {"domain": [-380, 2750], "nice": false, "zero": false},
              "axis": {"title": null, "orient": "right", "values": [0, 1000, 2000], "format": "d", "labelFontSize": 15, "labelPadding": 3, "tickSize": 5, "domain": false, "grid": true}
            },
            "color": {
              "field": "s", "type": "nominal",
              "scale": {"domain": ["Trend compon", "Seasonal eff"], "range": ["#ef7d00", "#e4003a"]},
              "legend": {"title": null, "orient": "none", "legendX": 17, "legendY": 8}
            }
          }
        },
        {
          "width": 1166,
          "height": 125,
          "data": {"name": "resid"},
          "mark": {"type": "line", "strokeWidth": 1.2, "strokeJoin": "round", "clip": true},
          "encoding": {
            "x": {
              "field": "d", "type": "temporal",
              "scale": {"type": "utc", "domain": [{"year": 2018, "month": 5, "date": 2, "utc": true}, {"year": 2023, "month": 2, "date": 1, "utc": true}]},
              "axis": {"title": null, "format": "%Y-%m-%d", "labelFontSize": 12.5, "labelPadding": 6, "tickSize": 4, "ticks": true, "domain": false, "grid": true, "labelFlush": false, "labelOverlap": false,
                "values": [{"year": 2018, "month": 7, "date": 1, "utc": true}, {"year": 2019, "month": 1, "date": 1, "utc": true}, {"year": 2019, "month": 7, "date": 1, "utc": true}, {"year": 2020, "month": 1, "date": 1, "utc": true}, {"year": 2020, "month": 7, "date": 1, "utc": true}, {"year": 2021, "month": 1, "date": 1, "utc": true}, {"year": 2021, "month": 7, "date": 1, "utc": true}, {"year": 2022, "month": 1, "date": 1, "utc": true}, {"year": 2022, "month": 7, "date": 1, "utc": true}, {"year": 2023, "month": 1, "date": 1, "utc": true}]}
            },
            "y": {
              "field": "r", "type": "quantitative",
              "scale": {"domain": [-440, 345], "nice": false, "zero": false},
              "axis": {"title": null, "orient": "right", "values": [-400, -200, 0, 200], "format": "d", "labelFontSize": 15, "labelPadding": 3, "tickSize": 5, "domain": false, "grid": true}
            },
            "color": {
              "datum": "Residua", "type": "nominal",
              "scale": {"domain": ["Residua"], "range": ["#c13246"]},
              "legend": {"title": null, "orient": "none", "legendX": 17, "legendY": 5}
            }
          }
        }
      ]
    }
  ],
  "config": {
    "view": {"stroke": "#bdbdbd", "strokeWidth": 1},
    "axis": {
      "gridColor": "#2b313b",
      "gridWidth": 1,
      "tickColor": "#2b313b",
      "labelFont": "DejaVu Sans Mono",
      "labelColor": "#dcdcdc"
    },
    "legend": {
      "symbolType": "stroke",
      "symbolSize": 576,
      "symbolStrokeWidth": 1.6,
      "labelFont": "DejaVu Sans Mono",
      "labelFontSize": 11.5,
      "labelColor": "#e0e0e0",
      "labelOffset": 4,
      "rowPadding": -0.5,
      "padding": 0
    }
  }
}
